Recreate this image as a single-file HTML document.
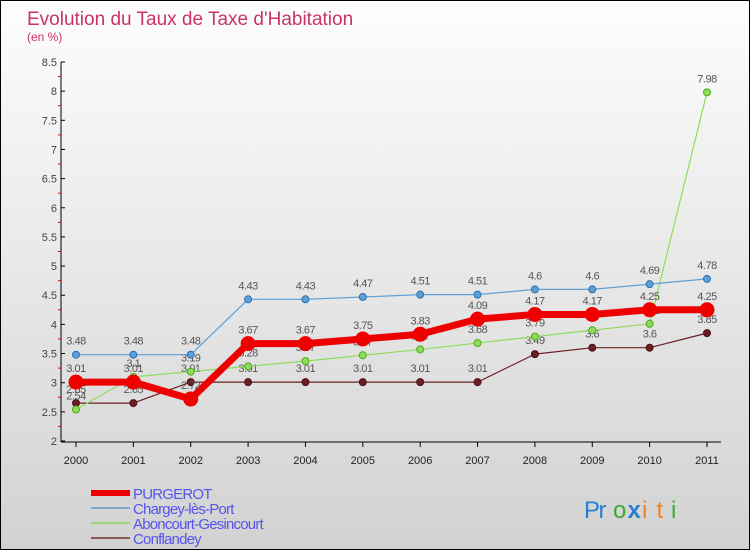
<!DOCTYPE html>
<html><head><meta charset="utf-8"><style>
body{margin:0}
#c{width:750px;height:550px;position:relative;box-sizing:border-box;border:1px solid #000;background:linear-gradient(#fdfdfd,#d2d2d2);font-family:"Liberation Sans",sans-serif;overflow:hidden}
</style></head><body>
<div id="c">
<svg id="s" width="750" height="550" style="position:absolute;left:0;top:0"></svg>
</div>
<script>
const years=["2000","2001","2002","2003","2004","2005","2006","2007","2008","2009","2010","2011"];
const purgerot=[3.01,3.01,2.72,3.67,3.67,3.75,3.83,4.09,4.17,4.17,4.25,4.25];
const chargey=[3.48,3.48,3.48,4.43,4.43,4.47,4.51,4.51,4.6,4.6,4.69,4.78];
const aboncourt=[2.54,3.1,3.19,3.28,3.37,3.47,3.57,3.68,3.79,3.9,4.01,7.98];
const conflandey=[2.65,2.65,3.01,3.01,3.01,3.01,3.01,3.01,3.49,3.6,3.6,3.85];
const yTicks=["2","2.5","3","3.5","4","4.5","5","5.5","6","6.5","7","7.5","8","8.5"];
const ns="http://www.w3.org/2000/svg",s=document.getElementById('s');
const X=i=>75+i*(631/11), Y=v=>440-(v-2)*(379/6.5);
function el(t,a,p){const e=document.createElementNS(ns,t);for(const k in a)e.setAttribute(k,a[k]);(p||s).appendChild(e);return e;}
function tx(x,y,str,a){const e=el('text',Object.assign({x:x,y:y},a));e.textContent=str;return e;}
let t=tx(26,24,"Evolution du Taux de Taxe d'Habitation",{fill:"#c8336a","font-size":19});

t=tx(26,40,"(en %)",{fill:"#c8336a","font-size":12});

let ax=el('line',{x1:60,y1:61,x2:60,y2:441,stroke:"#000"});

ax=el('line',{x1:60,y1:441,x2:720,y2:441,stroke:"#000"});

yTicks.forEach((l,i)=>{const v=parseFloat(l),y=Y(v);
 el('line',{x1:60,y1:y,x2:64,y2:y,stroke:"#000"});
 if(i<yTicks.length-1)el('line',{x1:57,y1:Y(v+0.25),x2:60,y2:Y(v+0.25),stroke:"#e00"});
 const e=tx(56,y+4,l,{"text-anchor":"end","font-size":11,fill:"#444"});
 });
years.forEach((l,i)=>{el('line',{x1:X(i),y1:441,x2:X(i),y2:446,stroke:"#000"});
 const e=tx(X(i),463,l,{"text-anchor":"middle","font-size":11,fill:"#222"});
 });
function series(d,col,w,r,name,dark){
 const g=el('g',{});
 el('polyline',{points:d.map((v,i)=>X(i)+','+Y(v)).join(' '),fill:'none',stroke:col,'stroke-width':w,'stroke-linejoin':'round'},g);
 d.forEach((v,i)=>{const c=el('circle',{cx:X(i),cy:Y(v),r:r,fill:col,stroke:dark,'stroke-width':1},g);
  
  const e=tx(X(i),Y(v)-10,String(v),{"text-anchor":"middle","font-size":11,fill:"#555",style:"letter-spacing:-0.5px"},g);
  });
}
series(conflandey,"#6b1f24",1.2,3.5,"conflandey","#4a1015");
series(aboncourt,"#8fdc5a",1.2,3.5,"aboncourt","#4caa20");
series(chargey,"#5e9fd6",1.2,3.5,"chargey","#2a70b0");
series(purgerot,"#ee0000",7,7,"purgerot","#ee0000");
const leg=[["PURGEROT","#ee0000",6],["Chargey-lès-Port","#7aa8cc",2],["Aboncourt-Gesincourt","#9ad87a",2],["Conflandey","#8a5a5a",2]];
leg.forEach((l,i)=>{const y=492+i*15;const g=el('g',{});
 
 el('line',{x1:90,y1:y,x2:129,y2:y,stroke:l[1],'stroke-width':l[2]},g);
 tx(132,y+6,l[0],{"font-size":15,fill:"#5555ee",style:"letter-spacing:-0.8px"},g);});
const lg=el('g',{});
[["P","#2a7fd0"],["r","#2a7fd0"],["o","#3aaa30"],["x","#2a7fd0"],["i","#f08020"],["t","#f08020"],["i","#3aaa30"]].forEach((c,i)=>{
 tx(583+i*14.5,517,c[0],{"font-size":24,fill:c[1],"font-weight":i==3?"bold":"normal"},lg);});
</script>
</body></html>
